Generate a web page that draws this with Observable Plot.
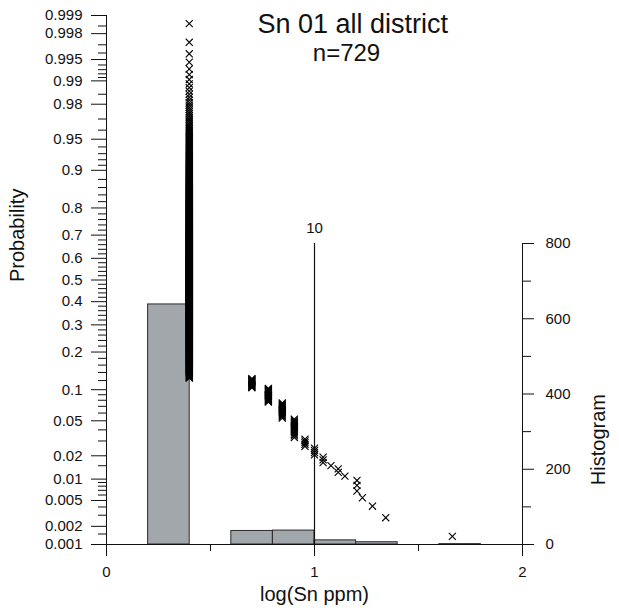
<!DOCTYPE html>
<html><head><meta charset="utf-8">
<script src="https://cdn.jsdelivr.net/npm/d3@7"></script>
<script src="https://cdn.jsdelivr.net/npm/@observablehq/plot@0.6"></script>
<style>
body{margin:0;background:#fff;}
#chart{position:relative;width:619px;height:612px;}
#chart svg{position:absolute;left:0;top:0;}
</style></head><body><div id="chart"></div>
<script>
// ---- data ----
const snPpm        = [2.5, 5, 6, 7, 8, 9, 10, 11, 12, 13, 14, 16, 17, 19, 22, 46];
const sampleCounts = [638, 16, 20, 17, 15, 5, 4, 3, 1, 2, 1, 3, 1, 1, 1, 1];
const histBinEdges = [0, 0.2, 0.4, 0.6, 0.8, 1.0, 1.2, 1.4, 1.6, 1.8, 2.0];
const probTicks = [0.999, 0.998, 0.995, 0.99, 0.98, 0.95, 0.9, 0.8, 0.7, 0.6, 0.5, 0.4, 0.3, 0.2, 0.1, 0.05, 0.02, 0.01, 0.005, 0.002, 0.001];
const probMinorTicks = [0.0015, 0.003, 0.004, 0.006, 0.007, 0.008, 0.009, 0.015, 0.03, 0.04, 0.06, 0.07, 0.08, 0.09,
  0.12, 0.14, 0.16, 0.18, 0.22, 0.24, 0.26, 0.28, 0.32, 0.34, 0.36, 0.38, 0.42, 0.44, 0.46, 0.48,
  0.52, 0.54, 0.56, 0.58, 0.62, 0.64, 0.66, 0.68, 0.72, 0.74, 0.76, 0.78, 0.82, 0.84, 0.86, 0.88,
  0.91, 0.92, 0.93, 0.94, 0.96, 0.97, 0.985, 0.991, 0.992, 0.993, 0.994, 0.996, 0.997, 0.9985];
const histTicks = [0, 200, 400, 600, 800];
const histMinorTicks = [100, 300, 500, 700];
const xTicks = [0, 1, 2];
const xMinorTicks = [0.5, 1.5];
const refLines = [{logPpm: 1, label: "10"}];
const titleText = "Sn 01 all district";
const countText = "n=729";

// inverse standard normal CDF (probability-paper scale)
function probit(p) {
  const a = [-3.969683028665376e+01, 2.209460984245205e+02, -2.759285104469687e+02, 1.383577518672690e+02, -3.066479806614716e+01, 2.506628277459239e+00];
  const b = [-5.447609879822406e+01, 1.615858368580409e+02, -1.556989798598866e+02, 6.680131188771972e+01, -1.328068155288572e+01];
  const c = [-7.784894002430293e-03, -3.223964580411365e-01, -2.400758277161838e+00, -2.549732539343734e+00, 4.374664141464968e+00, 2.938163982698783e+00];
  const d = [7.784695709041462e-03, 3.224671290700398e-01, 2.445134137142996e+00, 3.754408661907416e+00];
  const plow = 0.02425, phigh = 1 - plow;
  let q, r;
  if (p < plow) { q = Math.sqrt(-2 * Math.log(p)); return (((((c[0]*q+c[1])*q+c[2])*q+c[3])*q+c[4])*q+c[5]) / ((((d[0]*q+d[1])*q+d[2])*q+d[3])*q+1); }
  if (p > phigh) { q = Math.sqrt(-2 * Math.log(1 - p)); return -(((((c[0]*q+c[1])*q+c[2])*q+c[3])*q+c[4])*q+c[5]) / ((((d[0]*q+d[1])*q+d[2])*q+d[3])*q+1); }
  q = p - 0.5; r = q * q;
  return (((((a[0]*r+a[1])*r+a[2])*r+a[3])*r+a[4])*r+a[5])*q / (((((b[0]*r+b[1])*r+b[2])*r+b[3])*r+b[4])*r+1);
}

// expand samples; plotting position p = rank/(n+1), ranked from the largest value
const samples = [];
snPpm.forEach((v, i) => { for (let k = 0; k < sampleCounts[i]; k++) samples.push({ppm: v}); });
const n = samples.length;
const ranked = samples.slice().sort((a, b) => b.ppm - a.ppm).map((d, i) => ({ppm: d.ppm, p: (i + 1) / (n + 1)}));

const zMin = probit(0.001), zMax = probit(0.999);

const font = "'Liberation Sans', Arial, Helvetica, sans-serif";
const W = 619, H = 612, ML = 106, MR = 97, MB = 68;
const TICK_FONT = 15;

const histPlot = Plot.plot({
  width: W, height: H, marginLeft: ML, marginRight: MR, marginTop: 243, marginBottom: MB,
  x: {domain: [0, 2], axis: null},
  y: {domain: [0, 800]},
  style: {fontFamily: font, fontSize: "15px", color: "#111", background: "white", overflow: "visible"},
  marks: [
    Plot.rectY(samples, Plot.binX({y: "count"}, {x: d => Math.log10(d.ppm), thresholds: histBinEdges, fill: "#a2a7ac", stroke: "#2a2a2a", strokeWidth: 1, inset: 0})),
    Plot.ruleX([2], {y1: 0, y2: 800, stroke: "#111"}),
    Plot.axisY(histTicks, {anchor: "right", tickSize: 11, tickFormat: () => "", label: null}),
    Plot.axisY(histMinorTicks, {anchor: "right", tickSize: 8, tickFormat: () => "", label: null}),
    Plot.text(histTicks, {y: d => d, text: d => String(d), frameAnchor: "right", dx: 23, textAnchor: "start", fontSize: TICK_FONT}),
    Plot.ruleX(refLines, {x: "logPpm", y1: 0, y2: 800, stroke: "#111", strokeWidth: 1.2}),
    Plot.text(refLines, {x: "logPpm", y: 800, text: "label", dy: -15, fontSize: TICK_FONT}),
    Plot.text(["Histogram"], {text: d => d, frameAnchor: "right", dx: 76, rotate: -90, fontSize: 20})
  ]
});

const probPlot = Plot.plot({
  width: W, height: H, marginLeft: ML, marginRight: MR, marginTop: 15, marginBottom: MB,
  x: {domain: [0, 2]},
  y: {domain: [zMin, zMax]},
  style: {fontFamily: font, fontSize: "15px", color: "#111", background: "transparent", overflow: "visible"},
  marks: [
    Plot.ruleY([zMin], {stroke: "#111"}),
    Plot.ruleX([0], {stroke: "#111"}),
    Plot.axisY(probTicks.map(probit), {anchor: "left", tickSize: 15, tickFormat: () => "", label: null}),
    Plot.axisY(probMinorTicks.map(probit), {anchor: "left", tickSize: 8, tickFormat: () => "", label: null}),
    Plot.text(probTicks, {y: d => probit(d), text: d => String(d), frameAnchor: "left", dx: -24, textAnchor: "end", fontSize: TICK_FONT}),
    Plot.axisX(xTicks, {anchor: "bottom", tickSize: 12, tickFormat: () => "", label: null}),
    Plot.axisX(xMinorTicks, {anchor: "bottom", tickSize: 7, tickFormat: () => "", label: null}),
    Plot.text(xTicks, {x: d => d, text: d => String(d), frameAnchor: "bottom", dy: 32, fontSize: TICK_FONT}),
    Plot.dot(ranked, {x: d => Math.log10(d.ppm), y: d => probit(d.p), symbol: "times", r: 3.3, stroke: "#000", strokeWidth: 1.1}),
    Plot.text(["Probability"], {text: d => d, frameAnchor: "left", dx: -89, dy: 2, rotate: -90, fontSize: 20}),
    Plot.text(["log(Sn ppm)"], {text: d => d, frameAnchor: "bottom", dy: 56, fontSize: 20}),
    Plot.text([titleText], {text: d => d, frameAnchor: "top-left", dx: 151, dy: -2, textAnchor: "start", fontSize: 27}),
    Plot.text([countText], {text: d => d, frameAnchor: "top", dx: 32, dy: 28, fontSize: 24})
  ]
});

const chart = document.getElementById("chart");
chart.appendChild(histPlot);
chart.appendChild(probPlot);
</script></body></html>
